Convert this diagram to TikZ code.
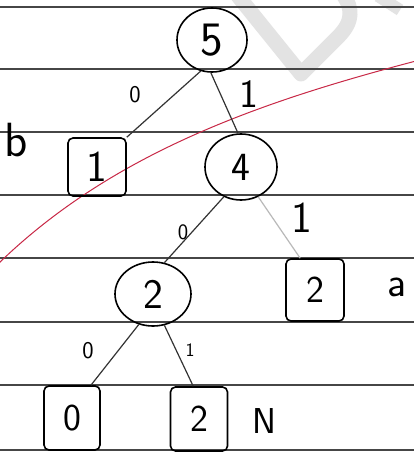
\documentclass[tikz,border=0pt]{standalone}
\usepackage{fontspec}
\usetikzlibrary{shapes.geometric}
\definecolor{redink}{RGB}{200,40,70}
\definecolor{ruleink}{RGB}{70,70,70}
\newcommand{\fsz}[1]{\sffamily\fontsize{#1}{#1}\selectfont}
\begin{document}
\begin{tikzpicture}[x=1pt,y=-1pt,
  ruled/.style={draw=ruleink,line width=1.3pt},
  inode/.style={ellipse,draw=black,line width=1.6pt,inner sep=0pt,font=\fsz{40}},
  leaf/.style={rectangle,rounded corners=5pt,draw=black,line width=1.6pt,inner sep=0pt,font=\fsz{38}},
  edge/.style={draw=black!80,line width=1.2pt},
  bit/.style={font=\fsz{24},inner sep=0pt},
  sidelab/.style={font=\fsz{40},inner sep=0pt}]
\useasboundingbox (0,0) rectangle (414,457);
\fill[white] (0,0) rectangle (414,457);
% watermark
\draw[gray!22,line width=15pt,line join=round,line cap=round]
  (238,-4) -- (301,74) -- (338,37) .. controls (354,21) and (352,8) .. (344,-4);
\draw[gray!22,line width=12pt] (378,-4) -- (400,10);
% ruled lines
\foreach \yy in {7,69,132,195,258,322,385,450} {\draw[ruled] (0,\yy) -- (414,\yy);}
% red curve
\draw[redink,line width=1pt] (-2,264) .. controls (110,155) and (255,103) .. (416,61);
% nodes
\node[inode,minimum width=70pt,minimum height=64pt,font=\fsz{48}] (n5) at (212,40) {5};
\node[leaf,minimum width=58pt,minimum height=58pt,font=\fsz{44}] (b1) at (97,167) {1};
\node[inode,minimum width=72pt,minimum height=66pt] (n4) at (241,167) {4};
\node[inode,minimum width=76pt,minimum height=64pt,font=\fsz{42}] (n2) at (153,294) {2};
\node[leaf,minimum width=58pt,minimum height=62pt] (ba) at (315,290) {2};
\node[leaf,minimum width=56pt,minimum height=64pt] (b0) at (72,418) {0};
\node[leaf,minimum width=57pt,minimum height=64pt] (bN) at (199,419) {2};
% side labels
\node[sidelab,font=\fsz{48}] (lb) at (16,140) {b};
\node[sidelab,font=\fsz{42}] (la) at (397,287) {a};
\node[sidelab,font=\fsz{36}] (lN) at (264,421) {N};
% edges
\draw[edge] (n5.250) -- (b1.north east);
\draw[edge] (n5.268) -- (n4.95);
\draw[edge] (n4.240) -- (n2.70);
\draw[draw=gray!55,line width=1.2pt] (n4.300) -- (ba.115);
\draw[edge] (n2.245) -- (b0.60);
\draw[edge] (n2.290) -- (bN.100);
% bit labels
\node[bit] (e1) at (135,95) {0};
\node[bit,font=\fsz{40}] (e2) at (249,94) {1};
\node[bit,font=\fsz{22}] (e3) at (183,232) {0};
\node[bit,font=\fsz{44}] (e4) at (302,218) {1};
\node[bit] (e5) at (88,351) {0};
\node[bit,font=\fsz{19}] (e6) at (190,350) {1};
\end{tikzpicture}
\end{document}
